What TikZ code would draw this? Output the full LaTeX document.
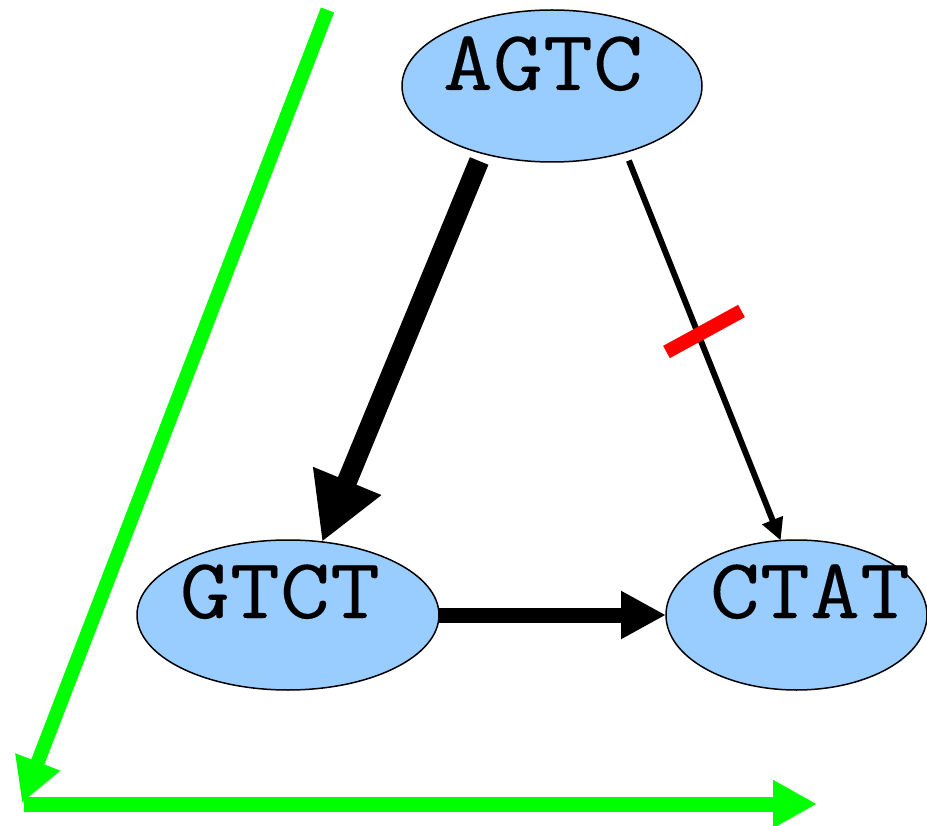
\documentclass[tikz,border=0pt]{standalone}
\usepackage{fontspec}
\newfontfamily\seqfont[FakeStretch=1.13,FakeBold=0.2]{Latin Modern Mono}
\usetikzlibrary{arrows.meta,shapes.geometric}
\definecolor{nodeblue}{HTML}{99CCFF}
\definecolor{axisgreen}{HTML}{00FF00}
\definecolor{cutred}{HTML}{FF0000}

\begin{document}
\begin{tikzpicture}[x=1pt,y=-1pt,
  seq/.style={ellipse, draw=black, line width=1.5pt, fill=nodeblue,
    inner sep=0pt, outer sep=0pt},
  seqlabel/.style={anchor=base, inner sep=0pt,
    font=\seqfont\fontsize{86}{86}\selectfont},
  heavyedge/.style={line width=20pt, -{Triangle[length=66pt,width=69pt]}},
  midedge/.style={line width=15pt, -{Triangle[length=45pt,width=45pt]}},
  thinedge/.style={line width=6pt, -{Triangle[length=22pt,width=21pt]}},
  cutmark/.style={draw=cutred, line width=14pt},
  axis/.style={draw=axisgreen, -{Triangle[length=44pt,width=45pt]}}]
\useasboundingbox (0,0) rectangle (927,826);

% sequence nodes
\node[seq, minimum width=300pt, minimum height=152pt] (agtc) at (552,86) {};
\node[seq, minimum width=302pt, minimum height=150pt] (gtct) at (288,615) {};
\node[seq, minimum width=261pt, minimum height=150pt] (ctat) at (796.5,615) {};
\node[seqlabel] (agtcl) at (543,90) {AGTC};
\node[seqlabel] (gtctl) at (280,618) {GTCT};
\node[seqlabel] (ctatl) at (810,618) {CTAT};

% transitions
\draw[heavyedge, shorten <=8.3pt] (agtc.-136) -- (gtct.65);
\draw[thinedge, shorten <=9pt] (agtc.-42.5) -- (ctat.102);
\draw[midedge] (gtct.east) -- (ctat.west);

% blocked transition
\coordinate (cutA) at (666.5,352);
\coordinate (cutB) at (741.5,311);
\draw[cutmark] (cutA) -- (cutB);

% axes
\coordinate (g0) at (327.5,10);
\coordinate (g1) at (22,803);
\coordinate (g2) at (24,804);
\coordinate (g3) at (817,804);
\draw[axis, line width=14pt] (g0) -- (g1);
\draw[axis, line width=15pt] (g2) -- (g3);
\end{tikzpicture}
\end{document}
